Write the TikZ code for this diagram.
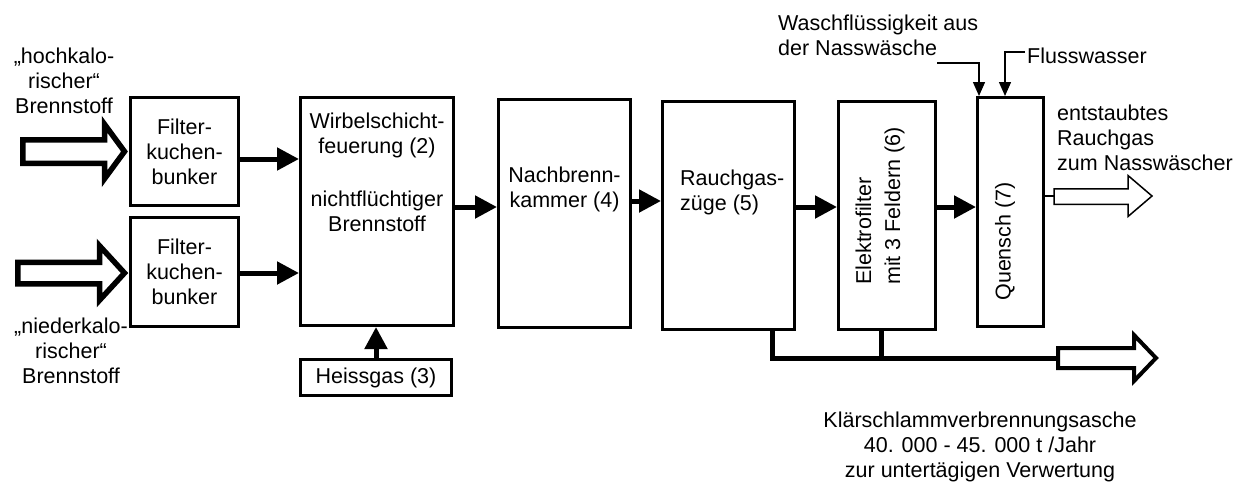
\documentclass[tikz,border=0pt]{standalone}
\usepackage{fontspec}
\setmainfont{Liberation Sans}
\usetikzlibrary{arrows.meta,calc}
\begin{document}
\begin{tikzpicture}[x=1pt,y=-1pt,
  font=\fontsize{21.5}{25}\selectfont,
  box/.style={draw, line width=3pt, inner sep=0pt, align=center},
  txt/.style={inner sep=0pt, align=center},
  flow/.style={line width=5pt, -{Triangle[length=22pt,width=22pt]}},
  feed/.style={line width=1.5pt, -{Triangle[length=14pt,width=12pt]}},
  ash/.style={line width=5pt, line join=miter},
  hollowthick/.style={line width=5.5pt, line join=miter, fill=white},
  hollowmid/.style={line width=4pt, line join=miter, fill=white},
  hollowthin/.style={line width=1.5pt, line join=miter, fill=white}]
\fill[white] (0,0) rectangle (1242,483);
\useasboundingbox (0,0) rectangle (1242,483);

% boxes
\node[box, minimum width=108pt, minimum height=108pt] (f1) at (184.5,151.5) {Filter-\\kuchen-\\bunker};
\node[box, minimum width=108pt, minimum height=109pt] (f2) at (184.5,272) {Filter-\\kuchen-\\bunker};
\node[box, minimum width=153pt, minimum height=228pt] (wirbel) at (377,211.5) {};
\node[txt, anchor=north] (wirbelt) at (377,113) {Wirbelschicht-\\feuerung (2)\\[27.5pt]nichtflüchtiger\\Brennstoff};
\node[box, minimum width=151pt, minimum height=36pt] (heiss) at (376,377.5) {Heissgas (3)};
\node[box, minimum width=132pt, minimum height=228pt] (nach) at (564.5,213.5) {};
\node[txt, anchor=north] (nacht) at (564.5,166.5) {Nachbrenn-\\kammer (4)};
\node[box, minimum width=132pt, minimum height=228pt] (rauch) at (728.5,215.5) {};
\node[txt, anchor=north west, align=left] (raucht) at (680,169.5) {Rauchgas-\\züge (5)};
\node[box, minimum width=97pt, minimum height=228pt] (elektro) at (887,215.5) {};
\node[txt, rotate=90, anchor=west, align=left] (elektrot) at (880,285) {Elektrofilter\\[4pt]mit 3 Feldern (6)};
\node[box, minimum width=66pt, minimum height=229pt] (quensch) at (1010.5,212) {};
\node[txt, rotate=90] (quenscht) at (1005,241.5) {Quensch (7)};

% free texts
\node[txt, anchor=north] (hochT) at (64,47.5) {„hochkalo-\\rischer“\\Brennstoff};
\node[txt, anchor=north] (niedT) at (71,317.5) {„niederkalo-\\rischer“\\Brennstoff};
\node[txt, anchor=north west, align=left] (waschT) at (778,14.6) {Waschflüssigkeit aus\\der Nasswäsche};
\node[txt, anchor=base west] (flussT) at (1027,63) {Flusswasser};
\node[txt, anchor=north west, align=left] (outT) at (1057,104.5) {entstaubtes\\Rauchgas\\zum Nasswäscher};
\node[txt, anchor=north] (ascheT) at (980,411.5) {Klärschlammverbrennungsasche\\40. 000 - 45. 000 t /Jahr\\zur untertägigen Verwertung};

% helper coordinates
\coordinate (yA) at (0,159);
\coordinate (yB) at (0,273);
\coordinate (yC) at (0,207);
\coordinate (yD) at (0,201);
\coordinate (yO) at (0,196);

% flow arrows
\draw[flow] (f1.east |- yA) -- (wirbel.west |- yA);
\draw[flow] (f2.east |- yB) -- (wirbel.west |- yB);
\draw[flow] (heiss.north) -- (heiss.north |- wirbel.south);
\draw[flow] (wirbel.east |- yC) -- (nach.west |- yC);
\draw[flow] (nach.east |- yD) -- (rauch.west |- yD);
\draw[flow] (rauch.east |- yC) -- (elektro.west |- yC);
\draw[flow] (elektro.east |- yC) -- (quensch.west |- yC);

% feeds into Quensch
\coordinate (w0) at (937,63);
\coordinate (wk) at (979,63);
\draw[feed] (w0) -- (wk) -- (wk |- quensch.north);
\coordinate (fl0) at (1025,52);
\coordinate (flk) at (1005,52);
\draw[feed] (fl0) -- (flk) -- (flk |- quensch.north);

% input hollow arrows
\draw[hollowthick] (22.75,139.75) -- (104.5,139.75) -- (104.5,124.25) -- (124.5,151.5) -- (104.5,178.75) -- (104.5,163.25) -- (22.75,163.25) -- cycle;
\draw[hollowthick] (17.75,262.25) -- (99.5,262.25) -- (99.5,245.75) -- (124.5,273) -- (99.5,300.25) -- (99.5,283.75) -- (17.75,283.75) -- cycle;

% outlet
\coordinate (o1) at (1054,196);
\draw[line width=1.5pt] (quensch.east |- yO) -- (o1);
\draw[hollowthin] (1054,188.75) -- (1128,188.75) -- (1128,175.5) -- (1152,196) -- (1128,216.5) -- (1128,204.25) -- (1054,204.25) -- cycle;

% ash line
\coordinate (a1) at (772,358);
\coordinate (a2) at (881,358);
\coordinate (at) at (1058,358);
\draw[ash] (rauch.south -| a1) -- (a1) -- (at);
\draw[ash] (elektro.south -| a2) -- (a2);
\draw[hollowmid] (1058,348) -- (1134,348) -- (1134,335) -- (1156,358) -- (1134,381) -- (1134,368) -- (1058,368) -- cycle;
\end{tikzpicture}
\end{document}
